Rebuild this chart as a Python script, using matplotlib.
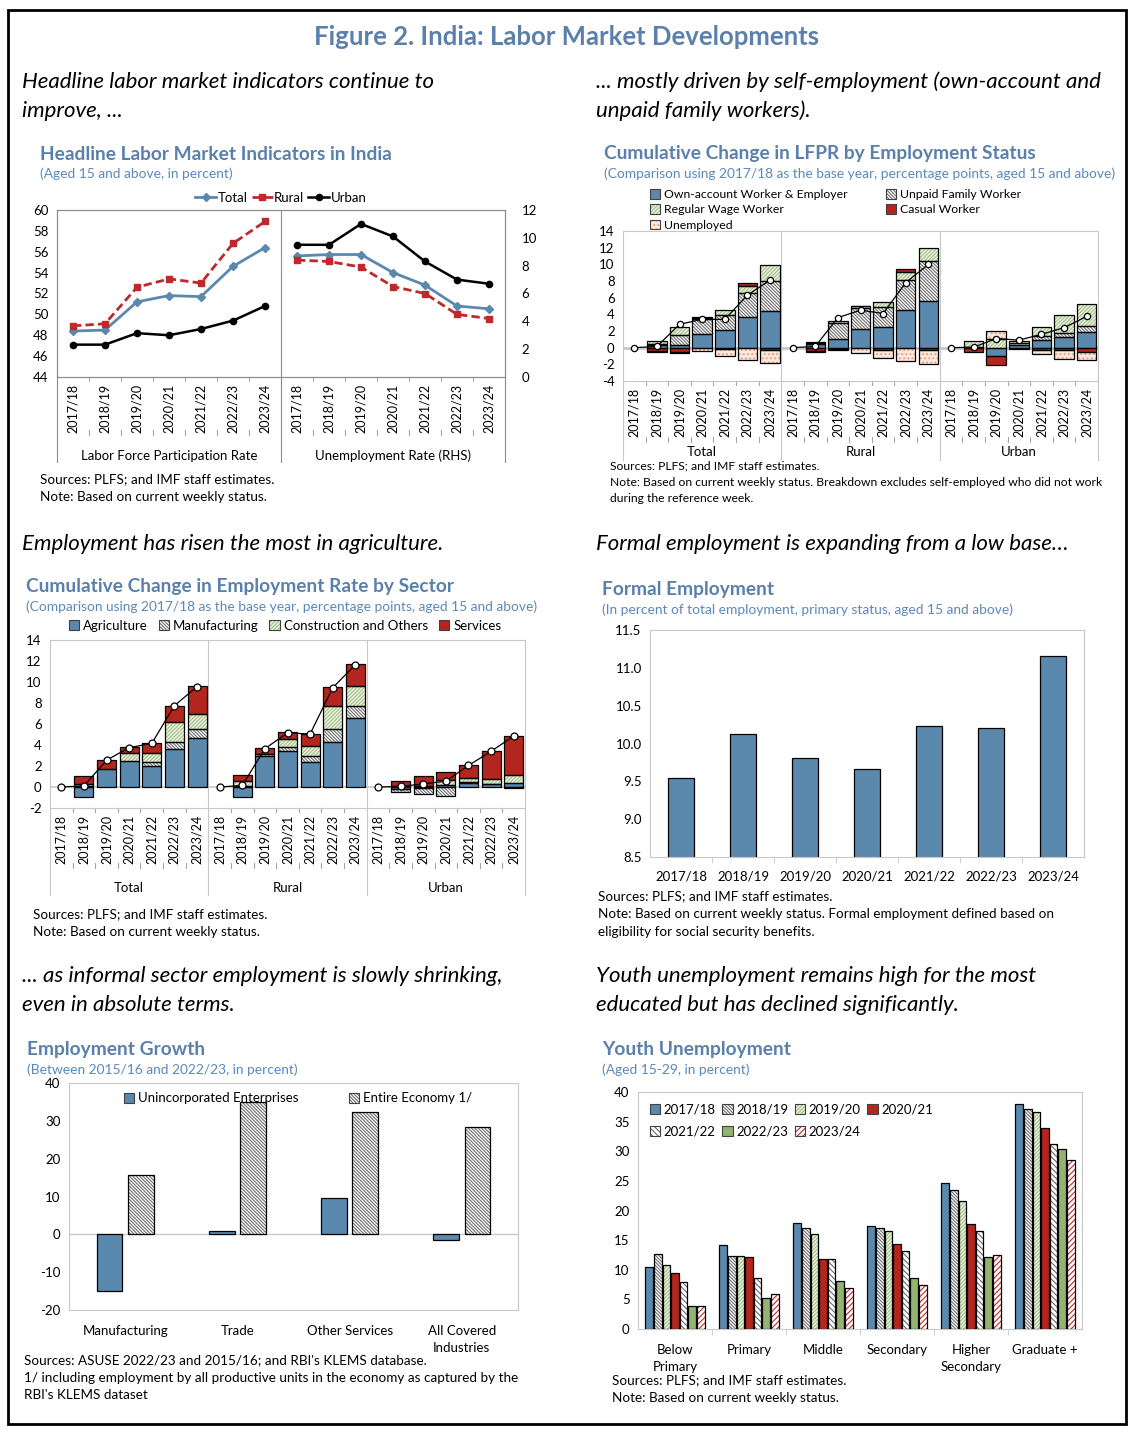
import numpy as np
import matplotlib
matplotlib.use('Agg')
import matplotlib.pyplot as plt
from matplotlib.patches import Patch, Rectangle
from matplotlib.lines import Line2D

plt.rcParams['font.family'] = ['Lato', 'DejaVu Sans']
plt.rcParams['hatch.linewidth'] = 0.8
plt.rcParams['axes.unicode_minus'] = False

W, H = 1134, 1434

years = ['2017/18', '2018/19', '2019/20', '2020/21', '2021/22', '2022/23', '2023/24']

# headline indicators
lfpr_total = [48.4, 48.5, 51.2, 51.8, 51.7, 54.6, 56.4]
lfpr_rural = [48.9, 49.1, 52.6, 53.4, 53.0, 56.8, 58.9]
lfpr_urban = [47.1, 47.1, 48.2, 48.0, 48.6, 49.4, 50.8]
ur_total = [8.7, 8.8, 8.8, 7.5, 6.6, 5.1, 4.9]
ur_rural = [8.4, 8.3, 7.9, 6.5, 6.0, 4.5, 4.2]
ur_urban = [9.5, 9.5, 11.0, 10.1, 8.3, 7.0, 6.7]

# LFPR by employment status (Total, Rural, Urban x 7 years)
st_own = [0, 0.3, 0.3, 1.6, 2.1, 3.7, 4.4,
          0, 0.5, 1.05, 2.25, 2.5, 4.5, 5.55,
          0, 0.05, -1.05, 0.35, 0.9, 1.25, 1.85]
st_unpaid = [0, 0.1, 1.2, 1.85, 1.85, 2.85, 3.65,
             0, 0.1, 1.95, 2.55, 2.35, 3.65, 4.85,
             0, 0.0, 0.0, 0.0, 0.45, 0.5, 0.8]
st_regular = [0, 0.4, 1.0, 0.1, 0.6, 0.8, 1.85,
              0, 0.1, 0.15, 0.2, 0.65, 0.9, 1.55,
              0, 0.8, 1.05, 0.25, 1.15, 2.15, 2.6]
st_casual = [0, -0.45, -0.5, 0.1, -0.2, 0.45, -0.3,
             0, -0.4, -0.2, 0.05, -0.3, 0.45, -0.3,
             0, -0.55, -1.05, -0.15, -0.25, -0.3, -0.5]
st_unemp = [0, -0.1, -0.1, -0.4, -0.8, -1.45, -1.55,
            0, -0.1, -0.05, -0.6, -0.95, -1.6, -1.65,
            0, 0.0, 0.9, 0.2, -0.5, -1.1, -1.0]
st_lfpr = [0, 0.15, 2.8, 3.4, 3.4, 6.3, 8.1,
           0, 0.15, 3.6, 4.5, 4.1, 7.8, 10.0,
           0, 0.05, 1.1, 0.9, 1.6, 2.4, 3.75]

# employment rate by sector
sec_agri = [0, -0.95, 1.7, 2.5, 2.0, 3.6, 4.65,
            0, -0.95, 2.95, 3.4, 2.35, 4.3, 6.55,
            0, -0.15, -0.1, 0.15, 0.4, 0.25, 0.4]
sec_manuf = [0, 0.05, 0.0, 0.0, 0.4, 0.65, 0.85,
             0, 0.05, 0.2, 0.4, 0.6, 1.2, 1.2,
             0, -0.3, -0.6, -0.9, 0.1, 0.05, -0.1]
sec_const = [0, 0.25, 0.0, 0.7, 0.8, 1.9, 1.5,
             0, 0.5, 0.0, 0.75, 0.95, 2.25, 1.85,
             0, 0.1, 0.1, 0.55, 0.4, 0.45, 0.75]
sec_serv = [0, 0.75, 0.9, 0.65, 1.0, 1.6, 2.6,
            0, 0.55, 0.55, 0.65, 1.15, 1.75, 2.1,
            0, 0.5, 0.95, 0.75, 1.15, 2.65, 3.75]
sec_emp = [0, 0.1, 2.55, 3.75, 4.15, 7.75, 9.55,
           0, 0.15, 3.65, 5.15, 5.05, 9.45, 11.65,
           0, 0.05, 0.3, 0.55, 2.05, 3.4, 4.85]

formal = [9.55, 10.12, 9.81, 9.66, 10.23, 10.21, 11.15]

growth_sectors = ['Manufacturing', 'Trade', 'Other Services', 'All Covered\nIndustries']
growth_ue = [-15.0, 0.8, 9.5, -1.5]
growth_ee = [15.8, 34.9, 32.3, 28.4]

educ = ['Below\nPrimary', 'Primary', 'Middle', 'Secondary', 'Higher\nSecondary', 'Graduate +']
youth = {
    '2017/18': [10.5, 14.1, 17.9, 17.4, 24.6, 38.0],
    '2018/19': [12.7, 12.4, 17.1, 17.0, 23.4, 37.2],
    '2019/20': [10.8, 12.3, 16.1, 16.5, 21.6, 36.6],
    '2020/21': [9.4, 12.1, 11.8, 14.3, 17.7, 33.9],
    '2021/22': [8.0, 8.65, 11.8, 13.2, 16.5, 31.3],
    '2022/23': [3.9, 5.3, 8.1, 8.65, 12.1, 30.4],
    '2023/24': [3.9, 5.9, 7.0, 7.4, 12.5, 28.6],
}

BLUE = '#5b89ae'
RED = '#b3261e'
TBLUE = '#5a80ab'
GRAY = '#a6a6a6'
S_BLUE = (BLUE, None, None)
S_RED = (RED, None, None)
S_GRAYH = ('white', '\\' * 10, '#6e6e6e')
S_GREENH = ('#ebf3e0', '/' * 9, '#a3bf87')
S_DOTS = ('#fde6da', '....', '#e39a80')
S_GRAYS = ('white', '\\' * 6, '#6a6a6a')
S_GREEN = ('#93b46e', None, None)
S_REDH = ('white', '/' * 6, '#c0282d')


def rect(l, t, r, b):
    return [l / W, 1 - b / H, (r - l) / W, (b - t) / H]


def ftext(x, y, s, **kw):
    kw.setdefault('va', 'center')
    fig.text(x / W, 1 - y / H, s, **kw)


def bar(ax, x, h, width, style, bottom=0):
    face, hatch, hcol = style
    x = np.atleast_1d(np.asarray(x, float))
    h = np.atleast_1d(np.asarray(h, float))
    bottom = np.broadcast_to(np.asarray(bottom, float), h.shape)
    m = h != 0
    ax.bar(x[m], h[m], width, bottom=bottom[m], color=face,
           edgecolor=hcol if hatch else face, hatch=hatch, linewidth=0, zorder=2)
    ax.bar(x[m], h[m], width, bottom=bottom[m], fill=False,
           edgecolor='black', linewidth=0.9, zorder=3)


def stack(ax, x, series, styles, width):
    pos = np.zeros(len(x))
    neg = np.zeros(len(x))
    for vals, st in zip(series, styles):
        v = np.asarray(vals, float)
        b = np.where(v >= 0, pos, neg)
        bar(ax, x, v, width, st, bottom=b)
        pos += np.clip(v, 0, None)
        neg += np.clip(v, None, 0)


def handle(style):
    face, hatch, hcol = style
    return (Patch(facecolor=face, hatch=hatch, edgecolor=hcol if hatch else face, lw=0),
            Patch(fill=False, edgecolor='#404040', lw=0.8))


def frame(ax, color=GRAY):
    for sp in ax.spines.values():
        sp.set_color(color)
        sp.set_linewidth(0.8)
    ax.tick_params(axis='y', length=0, labelsize=9.5, pad=6)


def cat_axis(ax, labels, gsize, gnames, lab_bot, grp_y, sep_bot, inner=GRAY):
    n = len(labels)
    ax.set_xticks(np.arange(n))
    ax.set_xticklabels(labels, rotation=90, fontsize=9)
    ax.tick_params(axis='x', length=0, pad=5)
    ax.set_xlim(-0.5, n - 0.5)
    hpx = ax.get_position().height * H
    tr = ax.get_xaxis_transform()
    for i in range(n + 1):
        b = i - 0.5
        if i % gsize == 0:
            top = 1 if 0 < i < n else 0
            ax.plot([b, b], [top, -sep_bot / hpx], transform=tr, color=inner,
                    lw=0.8, clip_on=False, zorder=1)
        else:
            ax.plot([b, b], [0, -4 / hpx], transform=tr, color=GRAY, lw=0.8, clip_on=False)
            ax.plot([b, b], [-(lab_bot - 5) / hpx, -lab_bot / hpx], transform=tr,
                    color=GRAY, lw=0.8, clip_on=False)
    for g, name in enumerate(gnames):
        ax.text(g * gsize + (gsize - 1) / 2, -grp_y / hpx, name, transform=tr,
                ha='center', va='center', fontsize=9.5)


fig = plt.figure(figsize=(W / 100, H / 100), dpi=100)
fig.add_artist(Rectangle((8 / W, 1 - 1424 / H), 1118 / W, 1414 / H,
                         transform=fig.transFigure, fill=False, lw=2, ec='black'))

ftext(567, 37, 'Figure 2. India: Labor Market Developments', ha='center',
      fontsize=18.5, fontweight='bold', color=TBLUE)

IT = dict(fontsize=16, style='italic')
ftext(22, 82, 'Headline labor market indicators continue to', **IT)
ftext(22, 111, 'improve, ...', **IT)
ftext(596, 82, '... mostly driven by self-employment (own-account and', **IT)
ftext(596, 111, 'unpaid family workers).', **IT)
ftext(22, 544, 'Employment has risen the most in agriculture.', **IT)
ftext(596, 544, 'Formal employment is expanding from a low base…', **IT)
ftext(22, 976, '... as informal sector employment is slowly shrinking,', **IT)
ftext(22, 1005, 'even in absolute terms.', **IT)
ftext(596, 976, 'Youth unemployment remains high for the most', **IT)
ftext(596, 1005, 'educated but has declined significantly.', **IT)

TT = dict(fontsize=13.8, fontweight='bold', color=TBLUE)
ST = dict(fontsize=9.9, color='#5b88ba')
ftext(40, 154, 'Headline Labor Market Indicators in India', **TT)
ftext(40, 174, '(Aged 15 and above, in percent)', **ST)
ftext(604, 154, 'Cumulative Change in LFPR by Employment Status', **TT)
ftext(604, 174, '(Comparison using 2017/18 as the base year, percentage points, aged 15 and above)', **ST)
ftext(26, 587, 'Cumulative Change in Employment Rate by Sector', **TT)
ftext(26, 607, '(Comparison using 2017/18 as the base year, percentage points, aged 15 and above)', **ST)
ftext(602, 589, 'Formal Employment', **TT)
ftext(602, 610, '(In percent of total employment, primary status, aged 15 and above)', **ST)
ftext(27, 1050, 'Employment Growth', **TT)
ftext(27, 1070, '(Between 2015/16 and 2022/23, in percent)', **ST)
ftext(602, 1050, 'Youth Unemployment', **TT)
ftext(602, 1070, '(Aged 15-29, in percent)', **ST)

NT = dict(fontsize=9.7)
NS = dict(fontsize=8.7)
src = 'Sources: PLFS; and IMF staff estimates.'
cws = 'Note: Based on current weekly status.'
ftext(40, 479, src, **NT)
ftext(40, 497, cws, **NT)
ftext(610, 466, src, **NS)
ftext(610, 482, 'Note: Based on current weekly status. Breakdown excludes self-employed who did not work', **NS)
ftext(610, 499, 'during the reference week.', **NS)
ftext(33, 914, src, **NT)
ftext(33, 932, cws, **NT)
ftext(598, 896, src, **NT)
ftext(598, 914, 'Note: Based on current weekly status. Formal employment defined based on', **NT)
ftext(598, 932, 'eligibility for social security benefits.', **NT)
ftext(24, 1360, "Sources: ASUSE 2022/23 and 2015/16; and RBI's KLEMS database.", **NT)
ftext(24, 1378, '1/ including employment by all productive units in the economy as captured by the', **NT)
ftext(24, 1395, "RBI's KLEMS dataset", **NT)
ftext(612, 1380, src, **NT)
ftext(612, 1398, cws, **NT)

# ---- headline indicators
ax = fig.add_axes(rect(57, 210, 505, 377))
ax2 = ax.twinx()
xl = np.arange(7)
xr = np.arange(7, 14)
ax.plot(xl, lfpr_total, color=BLUE, lw=2, marker='D', ms=4)
ax.plot(xl, lfpr_rural, color='#c0282d', lw=2, ls=(0, (3, 1.5)), marker='s', ms=5)
ax.plot(xl, lfpr_urban, color='black', lw=1.8, marker='o', ms=4.5)
ax2.plot(xr, ur_total, color=BLUE, lw=2, marker='D', ms=4)
ax2.plot(xr, ur_rural, color='#c0282d', lw=2, ls=(0, (3, 1.5)), marker='s', ms=5)
ax2.plot(xr, ur_urban, color='black', lw=1.8, marker='o', ms=4.5)
ax.set_ylim(44, 60)
ax.set_yticks(np.arange(44, 61, 2))
ax2.set_ylim(0, 12)
ax2.set_yticks(np.arange(0, 13, 2))
frame(ax, '#8c8c8c')
frame(ax2, '#8c8c8c')
ax2.tick_params(axis='y', pad=12)
cat_axis(ax, years + years, 7, ['Labor Force Participation Rate', 'Unemployment Rate (RHS)'],
         58, 79, 85, inner='#8c8c8c')
fig.legend([Line2D([], [], color=BLUE, lw=2, marker='D', ms=4),
            Line2D([], [], color='#c0282d', lw=2, ls=(0, (3, 1.5)), marker='s', ms=5),
            Line2D([], [], color='black', lw=1.8, marker='o', ms=4.5)],
           ['Total', 'Rural', 'Urban'], loc='center', bbox_to_anchor=(281 / W, 1 - 198 / H),
           ncol=3, frameon=False, fontsize=9.5, handlelength=1.6, handletextpad=0.1,
           columnspacing=0.3, borderpad=0)

# ---- LFPR by employment status
ax = fig.add_axes(rect(623, 231, 1098, 381))
x = np.arange(21)
ax.axhline(0, color='#c8c8c8', lw=2, zorder=1)
stack(ax, x, [st_own, st_unpaid, st_regular, st_casual, st_unemp],
      [S_BLUE, S_GRAYH, S_GREENH, S_RED, S_DOTS], 0.86)
for g in range(3):
    xs = x[g * 7:(g + 1) * 7]
    ax.plot(xs, st_lfpr[g * 7:(g + 1) * 7], color='black', lw=0.9, marker='o', ms=4.5,
            mfc='white', mec='black', mew=0.9, zorder=5)
ax.set_ylim(-4, 14)
ax.set_yticks(np.arange(-4, 15, 2))
frame(ax, '#c8c8c8')
cat_axis(ax, years * 3, 7, ['Total', 'Rural', 'Urban'], 61, 71, 79, inner='#c8c8c8')
labs = ['Own-account Worker & Employer', 'Regular Wage Worker', 'Unemployed',
        'Unpaid Family Worker', 'Casual Worker']
hs = [handle(s) for s in [S_BLUE, S_GREENH, S_DOTS, S_GRAYH, S_RED]]
fig.legend(hs, labs, loc='upper left', bbox_to_anchor=(644 / W, 1 - 183 / H), ncol=2,
           frameon=False, fontsize=8.8, handlelength=0.8, handleheight=0.8,
           handletextpad=0.3, columnspacing=3.2, labelspacing=0.35, borderpad=0)

# ---- employment rate by sector
ax = fig.add_axes(rect(50, 640, 525, 808))
ax.axhline(0, color='#c8c8c8', lw=1.2, zorder=1)
stack(ax, x, [sec_agri, sec_manuf, sec_const, sec_serv],
      [S_BLUE, S_GRAYH, S_GREENH, S_RED], 0.84)
for g in range(3):
    xs = x[g * 7:(g + 1) * 7]
    ax.plot(xs, sec_emp[g * 7:(g + 1) * 7], color='black', lw=0.9, marker='o', ms=5,
            mfc='white', mec='black', mew=0.9, zorder=5)
ax.set_ylim(-2, 14)
ax.set_yticks(np.arange(-2, 15, 2))
frame(ax, '#c8c8c8')
cat_axis(ax, years * 3, 7, ['Total', 'Rural', 'Urban'], 60, 80, 87, inner='#c8c8c8')
fig.legend([handle(s) for s in [S_BLUE, S_GRAYH, S_GREENH, S_RED]],
           ['Agriculture', 'Manufacturing', 'Construction and Others', 'Services'],
           loc='center', bbox_to_anchor=(285 / W, 1 - 626 / H), ncol=4, frameon=False,
           fontsize=9.5, handlelength=0.8, handleheight=0.8, handletextpad=0.3,
           columnspacing=0.8, borderpad=0)

# ---- formal employment
ax = fig.add_axes(rect(650, 630, 1084, 857))
xf = np.arange(7)
bar(ax, xf, formal, 0.42, S_BLUE)
ax.set_ylim(8.5, 11.5)
ax.set_yticks(np.arange(8.5, 11.51, 0.5))
ax.yaxis.set_major_formatter(matplotlib.ticker.FormatStrFormatter('%.1f'))
ax.set_xlim(-0.5, 6.5)
ax.set_xticks(xf)
ax.set_xticklabels(years, fontsize=9.5)
ax.set_xticks(np.arange(0.5, 6, 1), minor=True)
ax.tick_params(axis='x', which='major', length=0, pad=10)
ax.tick_params(axis='x', which='minor', length=4, color='#c8c8c8')
frame(ax, '#c8c8c8')

# ---- employment growth
ax = fig.add_axes(rect(69, 1083, 518, 1310))
xg = np.arange(4)
ax.axhline(0, color='#c8c8c8', lw=1, zorder=1)
bar(ax, xg - 0.14, growth_ue, 0.23, S_BLUE)
bar(ax, xg + 0.14, growth_ee, 0.23, S_GRAYH)
ax.set_ylim(-20, 40)
ax.set_yticks(np.arange(-20, 41, 10))
ax.set_xlim(-0.5, 3.5)
ax.set_xticks(xg)
ax.set_xticklabels(growth_sectors, fontsize=9.5, linespacing=1.45, va='top')
ax.tick_params(axis='x', length=0, pad=11)
frame(ax, '#c8c8c8')
ax.legend([handle(S_BLUE), handle(S_GRAYH)], ['Unincorporated Enterprises', 'Entire Economy 1/'],
          loc='upper center', bbox_to_anchor=(0.51, 1.0), ncol=2, frameon=False, fontsize=9.5,
          handlelength=0.8, handleheight=0.8, handletextpad=0.3, columnspacing=3.8,
          borderaxespad=0.3)

# ---- youth unemployment
ax = fig.add_axes(rect(638, 1092, 1082, 1329))
xe = np.arange(6)
ystyles = [S_BLUE, S_GRAYH, S_GREENH, S_RED, S_GRAYS, S_GREEN, S_REDH]
step = 0.116
for j, (yr, st) in enumerate(zip(youth, ystyles)):
    bar(ax, xe + (j - 3) * step, youth[yr], 0.105, st)
ax.set_ylim(0, 40)
ax.set_yticks(np.arange(0, 41, 5))
ax.set_xlim(-0.5, 5.5)
ax.set_xticks(xe)
ax.set_xticklabels(educ, fontsize=9.5, linespacing=1.45, va='top')
ax.set_xticks(np.arange(0.5, 5, 1), minor=True)
ax.tick_params(axis='x', which='major', length=0, pad=11)
ax.tick_params(axis='x', which='minor', length=4, color='#c8c8c8')
frame(ax, '#c8c8c8')
order = [0, 4, 1, 5, 2, 6, 3]
yl = list(youth)
ax.legend([handle(ystyles[i]) for i in order], [yl[i] for i in order], loc='upper left',
          bbox_to_anchor=(0.0, 1.0), ncol=4, frameon=False, fontsize=9.5, handlelength=0.8,
          handleheight=0.8, handletextpad=0.25, columnspacing=0.5, labelspacing=0.75,
          borderaxespad=0.5)

fig.savefig('out.png', dpi=100)
